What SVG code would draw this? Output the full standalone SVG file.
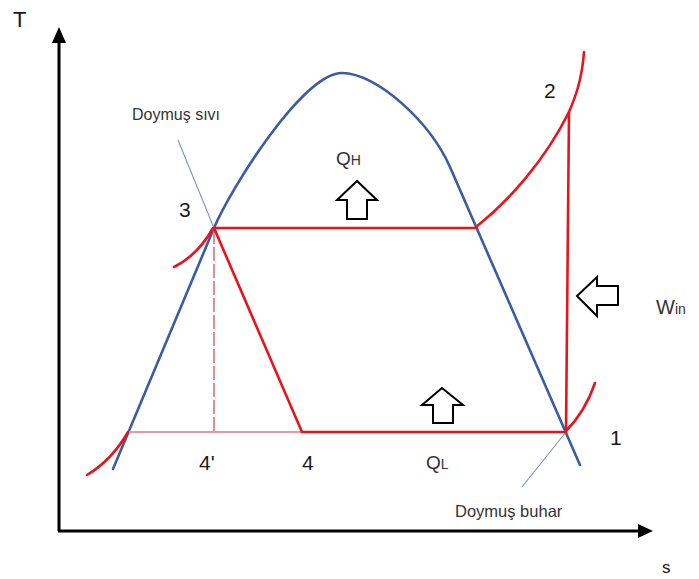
<svg xmlns="http://www.w3.org/2000/svg" width="699" height="579" viewBox="0 0 699 579">
<style>
.axis{stroke:#000;stroke-width:3;fill:none}
.ah{fill:#000}
.dome{stroke:#3b5ba5;stroke-width:2.6;fill:none;stroke-linecap:round;stroke-linejoin:round}
.red{stroke:#e8141c;stroke-width:2.6;fill:none;stroke-linecap:round;stroke-linejoin:round}
.pink{stroke:#e89aa0;stroke-width:2;fill:none}
.dash{stroke:#d9737a;stroke-width:1.6;fill:none;stroke-dasharray:14 3}
.thin{stroke:#7f93bd;stroke-width:1.1;fill:none}
.blk{stroke:#000;stroke-width:2;fill:#fff;stroke-linejoin:miter}
.lbl{font-family:"Liberation Sans",Arial,sans-serif;fill:#333}
.num{font-family:"Liberation Sans",Arial,sans-serif;fill:#1a1a1a;font-size:21px}
</style>
<rect width="699" height="579" fill="#fff"/>
<g id="axes">
<line class="axis" x1="59" y1="531" x2="59" y2="40"/>
<polygon class="ah" points="59,27 52,43 66,43"/>
<line class="axis" x1="58" y1="531" x2="640" y2="531"/>
<polygon class="ah" points="653,531 638,524 638,538"/>
<text class="lbl" x="13" y="27" style="font-size:22px;fill:#1a1a1a">T</text>
<text class="lbl" x="662" y="573" style="font-size:17px;fill:#1a1a1a">s</text>
</g>
<g id="connectors">
<path class="dome" d="M113,469 L214,228 C231,188 303,73 342,73 C377,73 430,122 450,167 L580,465"/>
<line class="thin" x1="178" y1="140" x2="214" y2="228"/>
<line class="thin" x1="566" y1="432" x2="522" y2="487"/>
<line class="pink" x1="128" y1="432" x2="302" y2="432"/>
<line class="dash" x1="214" y1="230" x2="214" y2="432"/>
<path class="red" d="M87,475 Q112,460 128,432"/>
<path class="red" d="M174,267 Q198,255 213,228"/>
<path class="red" d="M214,228 L476,228"/>
<path class="red" d="M214,228 L302,432 L566,432"/>
<path class="red" d="M476,227 C510,200 545,160 569,112 C575,98 582,80 584,52"/>
<path class="red" d="M569,112 L566,432"/>
<path class="red" d="M566,431 Q585,412 595,383"/>
</g>
<g id="arrow-qh"><polygon class="blk" points="357,181 337,200 347,200 347,219 367,219 367,200 377,200"/></g>
<g id="arrow-ql"><polygon class="blk" points="442,388 422,405 433,405 433,423 453,423 453,405 463,405"/></g>
<g id="arrow-win"><polygon class="blk" points="577,296 597,277 597,286 618,286 618,305 597,305 597,316"/></g>
<g id="labels">
<text class="lbl" x="132" y="120" style="font-size:16px">Doymuş sıvı</text>
<text class="lbl" x="455" y="517" style="font-size:16.5px">Doymuş buhar</text>
<text class="lbl" x="336" y="165" style="font-size:19px">Q<tspan style="font-size:14px">H</tspan></text>
<text class="lbl" x="426" y="469" style="font-size:19px">Q<tspan style="font-size:14px">L</tspan></text>
<text class="lbl" x="656" y="314" style="font-size:20px">W<tspan style="font-size:14px">in</tspan></text>
<text class="num" x="179" y="217">3</text>
<text class="num" x="544" y="98">2</text>
<text class="num" x="610" y="445">1</text>
<text class="num" x="199" y="470">4'</text>
<text class="num" x="302" y="470">4</text>
</g>
</svg>
